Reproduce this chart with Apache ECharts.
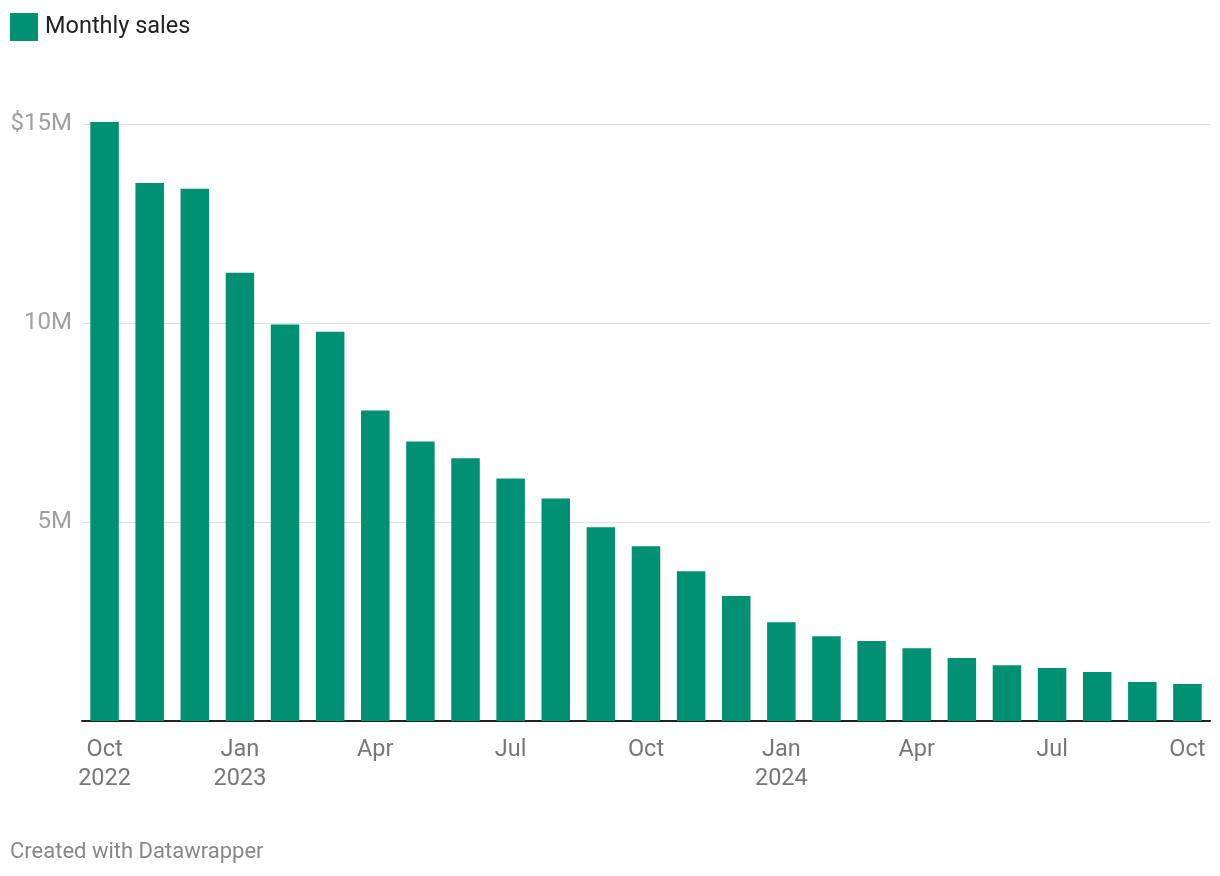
<!DOCTYPE html>
<html>
<head>
<meta charset="utf-8">
<script src="https://cdn.jsdelivr.net/npm/echarts@6/dist/echarts.min.js"></script>
<style>
html,body{margin:0;padding:0;background:#fff;}
#chart{width:1220px;height:876px;}
</style>
</head>
<body>
<div id="chart"></div>
<script>
const months = ["Oct 2022","Nov 2022","Dec 2022","Jan 2023","Feb 2023","Mar 2023","Apr 2023","May 2023","Jun 2023","Jul 2023","Aug 2023","Sep 2023","Oct 2023","Nov 2023","Dec 2023","Jan 2024","Feb 2024","Mar 2024","Apr 2024","May 2024","Jun 2024","Jul 2024","Aug 2024","Sep 2024","Oct 2024"];
const monthlySales = [15.05, 13.52, 13.37, 11.26, 9.96, 9.78, 7.80, 7.02, 6.60, 6.09, 5.59, 4.87, 4.39, 3.76, 3.14, 2.48, 2.13, 2.01, 1.83, 1.58, 1.40, 1.33, 1.23, 0.98, 0.93];
const yTicks = [0, 5, 10, 15];
const yTickLabels = ["", "5M", "10M", "$15M"];

const chart = echarts.init(document.getElementById('chart'));
chart.setOption({
  animation: false,
  textStyle: { fontFamily: 'Roboto' },
  legend: {
    left: 10, top: 13, padding: 0,
    itemWidth: 28, itemHeight: 28, itemGap: 20,
    icon: 'rect',
    textStyle: { fontSize: 23.5, color: '#222', fontFamily: 'Roboto', padding: [0,0,0,2] },
    data: ['Monthly sales']
  },
  graphic: [{
    type: 'text', left: 10, top: 841,
    style: { text: 'Created with Datawrapper', fontSize: 22, fill: '#888', fontFamily: 'Roboto' }
  }],
  grid: { left: 82, right: 10, top: 124, bottom: 155, containLabel: false },
  xAxis: {
    type: 'category',
    data: months,
    axisLine: { lineStyle: { color: '#222', width: 2 } },
    axisTick: { show: false },
    axisLabel: {
      interval: 2,
      fontSize: 23.5, color: '#777', lineHeight: 29, margin: 15,
      fontFamily: 'Roboto',
      formatter: function (v, i) {
        const [m, y] = v.split(' ');
        if (m === 'Oct' && y === '2022') return 'Oct\n2022';
        if (m === 'Jan') return m + '\n' + y;
        return m;
      }
    }
  },
  yAxis: {
    type: 'value', min: 0, max: 15, interval: 5,
    axisLine: { show: false }, axisTick: { show: false },
    splitLine: { lineStyle: { color: '#e0e0e0', width: 1 } },
    axisLabel: {
      fontSize: 24, color: '#a0a0a0', margin: 10, fontFamily: 'Roboto',
      padding: [4, 0, 0, 0],
      formatter: function (v) { return yTickLabels[yTicks.indexOf(v)] || ''; }
    }
  },
  series: [{
    name: 'Monthly sales',
    type: 'bar',
    data: monthlySales,
    barWidth: 28.5,
    clip: false,
    itemStyle: { color: '#009175' }
  }]
});
</script>
</body>
</html>
